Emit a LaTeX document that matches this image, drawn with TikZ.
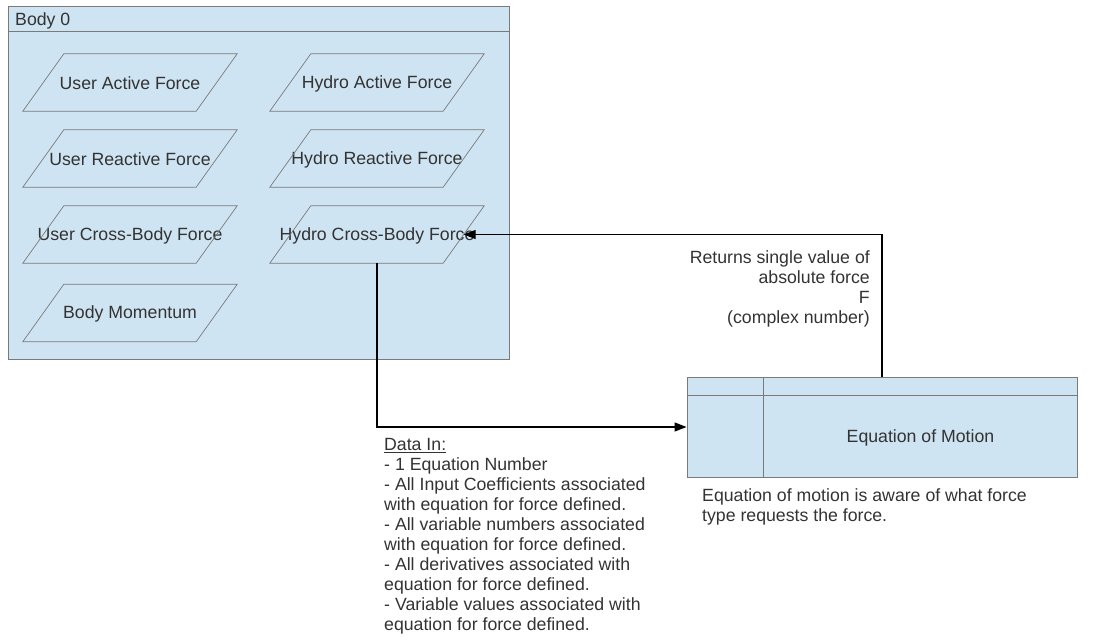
\documentclass[tikz,border=0pt]{standalone}
\usepackage{fontspec}
\setmainfont{Liberation Sans}
\usetikzlibrary{arrows.meta,calc}
\definecolor{boxfill}{HTML}{CFE4F2}
\definecolor{boxline}{HTML}{7A7A7A}
\definecolor{txt}{HTML}{333333}
\begin{document}
\begin{tikzpicture}[x=1pt,y=-1pt,
  every node/.style={font=\fontsize{17.7}{20}\selectfont, text=txt},
  container/.style={draw=boxline, fill=boxfill, line width=1pt, inner sep=0pt},
  pbox/.style={draw=none, minimum width=173pt, minimum height=57pt, inner sep=0pt},
  plabel/.style={label={[yshift=-1pt]center:{#1}}},
  pline/.style={draw=boxline, line width=0.7pt},
  conn/.style={draw=black, line width=1.3pt, -{Triangle[length=12pt,width=9pt]}},
  note/.style={inner sep=0pt}
]
\useasboundingbox (0,0) rectangle (1093,643);

% Body container
\node[container, minimum width=501pt, minimum height=353pt] (body) at (258.5,182.5) {};
\draw[draw=boxline, line width=1pt] ([yshift=-26pt]body.north west) -- ([yshift=-26pt]body.north east);
\node[note, anchor=base west] (bodytitle) at (15,25.5) {Body 0};

% Force parallelograms
\node[pbox, plabel={User Active Force}] (uaf) at (130,82.5) {};
\node[pbox, plabel={Hydro Active Force}] (haf) at (377,82.5) {};
\node[pbox, plabel={User Reactive Force}] (urf) at (130,158.5) {};
\node[pbox, plabel={Hydro Reactive Force}] (hrf) at (377,158.5) {};
\node[pbox, plabel={User Cross-Body Force}] (ucf) at (130,234.5) {};
\node[pbox, plabel={Hydro Cross-Body Force}] (hcf) at (377,234.5) {};
\node[pbox, plabel={Body Momentum}] (bm) at (130,313) {};
\foreach \n in {uaf,haf,urf,hrf,ucf,hcf,bm}{
  \draw[pline] ([xshift=20.5pt]\n.north west) -- ([xshift=20.5pt]\n.north east)
    -- ([xshift=-20.5pt]\n.south east) -- ([xshift=-20.5pt]\n.south west) -- cycle;
}

% Equation of Motion
\node[container, minimum width=390pt, minimum height=100pt] (eom) at (882,427) {};
\draw[draw=boxline, line width=1pt] ([yshift=-19pt]eom.north west) -- ([yshift=-19pt]eom.north east);
\draw[draw=boxline, line width=1pt] ([xshift=77pt]eom.north west) -- ([xshift=77pt]eom.south west);
\node[note] (eomtext) at (920.5,437.5) {Equation of Motion};

% Connectors
\draw[conn] (hcf.south) |- (eom.west);
\draw[conn] (eom.north) |- (hcf.east);

% Notes
\node[note, anchor=north east, align=right] (returns) at (870,250)
  {Returns single value of\\absolute force\\F\\(complex number)};
\node[note, anchor=north west, align=left] (datain) at (384,438)
  {\underline{Data In:}\\- 1 Equation Number\\- All Input Coefficients associated\\with equation for force defined.\\- All variable numbers associated\\with equation for force defined.\\- All derivatives associated with\\equation for force defined.\\- Variable values associated with\\equation for force defined.};
\node[note, anchor=north west, align=left, font=\fontsize{17.7}{20.5}\selectfont] (eomnote) at (702,488)
  {Equation of motion is aware of what force\\type requests the force.};
\end{tikzpicture}
\end{document}
